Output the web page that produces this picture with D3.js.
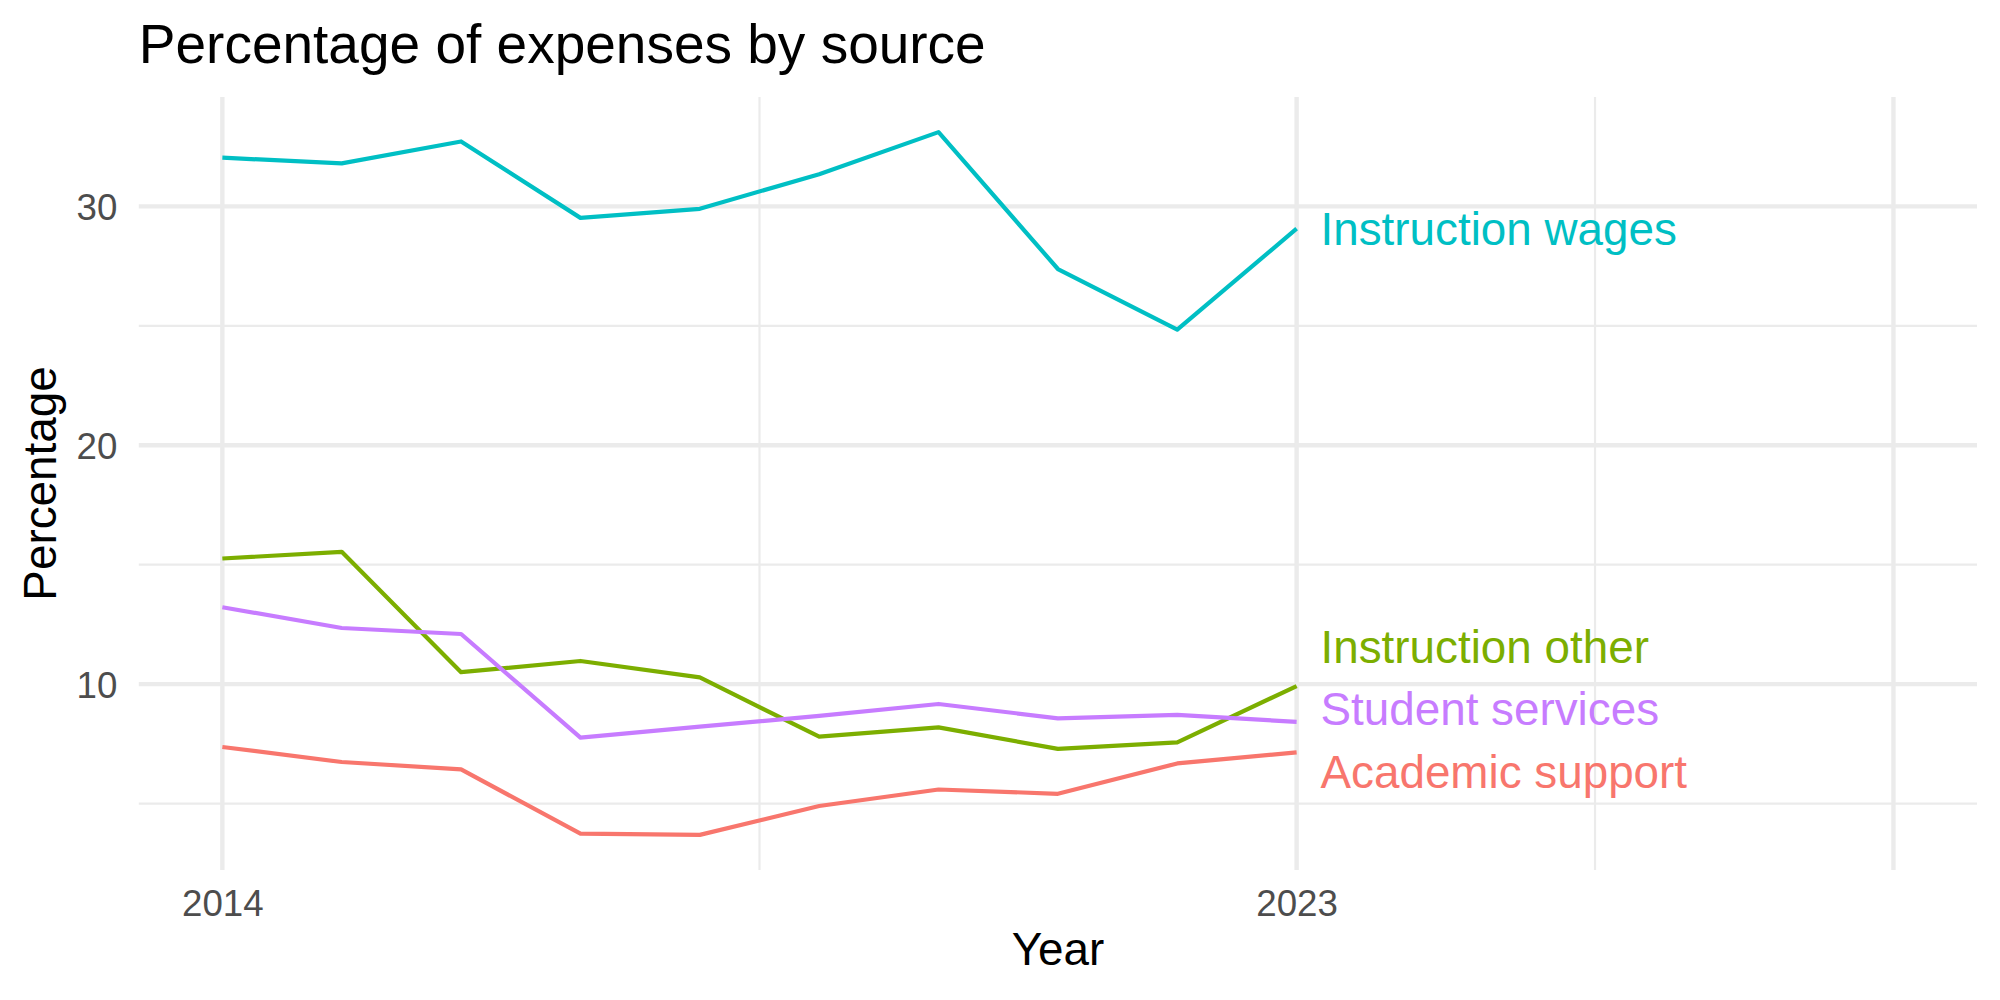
<!DOCTYPE html>
<html>
<head>
<meta charset="utf-8">
<script src="https://cdn.jsdelivr.net/npm/d3@7"></script>
<style>
  html, body { margin: 0; padding: 0; background: #fff; }
  svg { display: block; }
  text { font-family: "Liberation Sans", Arial, Helvetica, sans-serif; }
</style>
</head>
<body>
<svg id="chart" width="2000" height="1000"></svg>
<script>
// ---- Data ----
const years = [2014, 2015, 2016, 2017, 2018, 2019, 2020, 2021, 2022, 2023];
const seriesNames = ["Academic support", "Instruction other", "Instruction wages", "Student services"];
const academicSupport   = [7.37, 6.74, 6.43, 3.74, 3.69, 4.90, 5.59, 5.41, 6.68, 7.14];
const instructionOther  = [15.26, 15.54, 10.50, 10.97, 10.28, 7.80, 8.19, 7.29, 7.56, 9.92];
const instructionWages  = [32.04, 31.80, 32.72, 29.52, 29.90, 31.35, 33.11, 27.38, 24.84, 29.07];
const studentServices   = [13.22, 12.35, 12.10, 7.76, 8.22, 8.67, 9.17, 8.57, 8.71, 8.42];
const seriesValues = [academicSupport, instructionOther, instructionWages, studentServices];
const seriesColors = ["#F8766D", "#7CAE00", "#00BFC4", "#C77CFF"];
// label vertical positions (data units), as placed in the picture (repelled)
const labelValues = [6.31, 11.55, 29.07, 8.94];
const labelYear = 2023.2;

const xLimits = [2014, 2028];
const xMajorBreaks = [2014, 2023, 2028];
const xMajorLabels = ["2014", "2023", ""];
const xMinorBreaks = [2018.5, 2025.5];
const yMajorBreaks = [10, 20, 30];
const yMinorBreaks = [5, 15, 25];

const titleText = "Percentage of expenses by source";
const xTitle = "Year";
const yTitle = "Percentage";

// ---- Layout ----
const W = 2000, H = 1000;
const panel = { left: 138.8, right: 1977, top: 97, bottom: 870 };

const svg = d3.select("#chart");

function expand(lo, hi, m) { const r = hi - lo; return [lo - r * m, hi + r * m]; }

const allVals = seriesValues.flat();
const yExt = d3.extent(allVals);
const x = d3.scaleLinear().domain(expand(xLimits[0], xLimits[1], 0.05)).range([panel.left, panel.right]);
const y = d3.scaleLinear().domain(expand(yExt[0], yExt[1], 0.05)).range([panel.bottom, panel.top]);

const grid = svg.append("g");
const gridCol = "#EBEBEB";
// minor grid
grid.selectAll("line.ymin").data(yMinorBreaks).join("line")
  .attr("class", "ymin")
  .attr("x1", panel.left).attr("x2", panel.right)
  .attr("y1", d => y(d)).attr("y2", d => y(d))
  .attr("stroke", gridCol).attr("stroke-width", 2.2);
grid.selectAll("line.xmin").data(xMinorBreaks).join("line")
  .attr("class", "xmin")
  .attr("y1", panel.top).attr("y2", panel.bottom)
  .attr("x1", d => x(d)).attr("x2", d => x(d))
  .attr("stroke", gridCol).attr("stroke-width", 2.2);
// major grid
grid.selectAll("line.ymaj").data(yMajorBreaks).join("line")
  .attr("class", "ymaj")
  .attr("x1", panel.left).attr("x2", panel.right)
  .attr("y1", d => y(d)).attr("y2", d => y(d))
  .attr("stroke", gridCol).attr("stroke-width", 4.4);
grid.selectAll("line.xmaj").data(xMajorBreaks).join("line")
  .attr("class", "xmaj")
  .attr("y1", panel.top).attr("y2", panel.bottom)
  .attr("x1", d => x(d)).attr("x2", d => x(d))
  .attr("stroke", gridCol).attr("stroke-width", 4.4);

// axes (no lines, no ticks)
const xAxis = d3.axisBottom(x).tickValues(xMajorBreaks)
  .tickFormat((d, i) => xMajorLabels[i]).tickSize(0).tickPadding(0);
const gx = svg.append("g").attr("transform", `translate(0,${panel.bottom})`).call(xAxis);
gx.select(".domain").remove();
gx.selectAll("text").attr("font-size", 36.7).attr("fill", "#4D4D4D")
  .attr("dy", null).attr("y", 46).attr("font-family", "Liberation Sans, Arial, sans-serif");

const yAxis = d3.axisLeft(y).tickValues(yMajorBreaks).tickSize(0).tickPadding(0);
const gy = svg.append("g").attr("transform", `translate(${panel.left},0)`).call(yAxis);
gy.select(".domain").remove();
gy.selectAll("text").attr("font-size", 36.7).attr("fill", "#4D4D4D")
  .attr("x", -21.5).attr("dy", "0.35em").attr("font-family", "Liberation Sans, Arial, sans-serif");

// lines
const line = d3.line().x((d, i) => x(years[i])).y(d => y(d));
svg.append("g").selectAll("path").data(seriesValues).join("path")
  .attr("d", d => line(d))
  .attr("fill", "none")
  .attr("stroke", (d, i) => seriesColors[i])
  .attr("stroke-width", 4.2)
  .attr("stroke-linejoin", "round");

// labels
svg.append("g").selectAll("text").data(seriesNames).join("text")
  .attr("x", x(labelYear))
  .attr("y", (d, i) => y(labelValues[i]))
  .attr("dy", "0.35em")
  .attr("font-size", 45.8)
  .attr("fill", (d, i) => seriesColors[i])
  .text(d => d);

// titles
svg.append("text").attr("x", panel.left).attr("y", 62.5)
  .attr("font-size", 55).attr("fill", "#000").text(titleText);
svg.append("text").attr("x", (panel.left + panel.right) / 2).attr("y", 965)
  .attr("text-anchor", "middle").attr("font-size", 45.8).attr("fill", "#000").text(xTitle);
svg.append("text")
  .attr("transform", `translate(56,${(panel.top + panel.bottom) / 2}) rotate(-90)`)
  .attr("text-anchor", "middle").attr("font-size", 45.8).attr("fill", "#000").text(yTitle);
</script>
</body>
</html>
